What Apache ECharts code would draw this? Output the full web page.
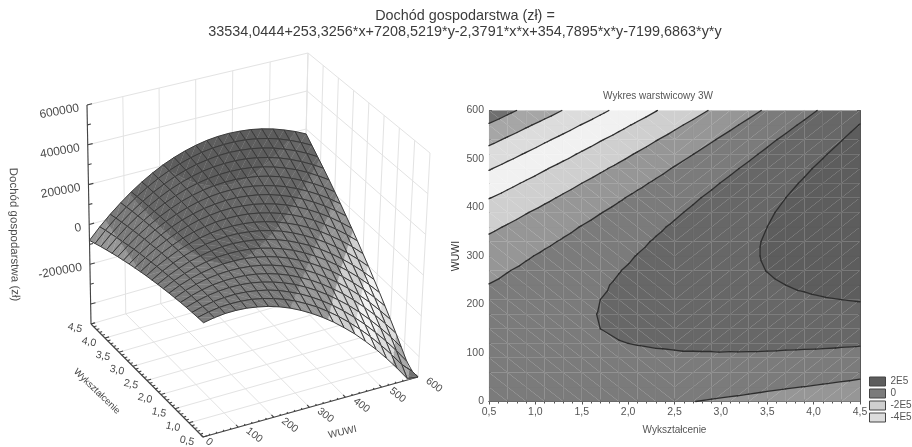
<!DOCTYPE html>
<html><head><meta charset="utf-8">
<style>html,body{margin:0;padding:0;background:#fff}#c{width:912px;height:447px;filter:blur(.55px)}</style>
<script src="https://cdn.jsdelivr.net/npm/echarts@6/dist/echarts.min.js"></script>
</head><body><div id="c"></div>
<script>
// Surface read-off: income in thousands of zł; one list per Wyksztalcenie value, columns are WUWI nodes
const wuwiNodes=[0,30,60,90,120,150,180,210,240,270,300,330,360,390,420,450,480,510,540,570,600];
const eduNodes=[0.5,0.7,0.9,1.1,1.3,1.5,1.7,1.9,2.1,2.3,2.5,2.7,2.9,3.1,3.3,3.5,3.7,3.9,4.1,4.3,4.5];
const zE05=[35,46,53,55,53,46,36,21,2,-22,-50,-82,-118,-159,-203,-253,-306,-364,-426,-492,-563];
const zE07=[35,48,57,61,61,57,48,35,18,-3,-29,-58,-93,-131,-174,-221,-272,-328,-388,-452,-520];
const zE09=[34,49,60,66,69,67,60,50,35,15,-8,-36,-68,-104,-145,-190,-239,-293,-350,-412,-479];
const zE11=[33,50,63,71,76,76,72,63,50,33,12,-14,-44,-78,-117,-159,-206,-258,-313,-373,-438];
const zE13=[31,50,65,76,82,84,82,76,65,50,31,7,-20,-52,-89,-129,-174,-224,-277,-335,-397];
const zE15=[28,50,67,80,88,92,92,88,80,67,50,28,3,-27,-62,-100,-143,-190,-241,-297,-357];
const zE17=[25,49,68,83,93,100,102,100,93,83,68,49,25,-3,-35,-71,-112,-157,-206,-260,-318];
const zE19=[21,47,68,85,98,107,111,111,107,98,85,68,47,21,-9,-43,-82,-125,-172,-223,-279];
const zE21=[17,45,68,88,102,113,120,122,119,113,102,87,68,44,17,-16,-52,-93,-138,-187,-241];
const zE23=[12,42,68,89,106,119,127,132,132,127,119,106,89,67,41,11,-23,-61,-104,-151,-203];
const zE25=[7,39,66,90,109,124,135,141,143,141,135,124,109,89,66,38,6,-31,-71,-116,-166];
const zE27=[1,35,65,90,112,129,141,150,154,154,150,141,128,111,90,64,34,-1,-39,-82,-129];
const zE29=[-6,30,62,90,113,133,148,158,165,167,164,158,147,132,113,89,61,29,-7,-48,-93];
const zE31=[-13,25,59,89,115,136,153,166,174,179,179,174,166,153,135,114,88,58,24,-15,-58];
const zE33=[-21,20,56,88,116,139,158,173,184,190,192,190,183,172,157,138,114,86,54,18,-23];
const zE35=[-29,13,52,86,116,141,163,180,192,201,205,205,200,192,179,162,140,114,84,50,11];
const zE37=[-38,6,47,83,115,143,166,186,200,211,217,219,217,211,200,185,165,142,114,81,45];
const zE39=[-48,-1,42,80,114,144,170,191,208,221,229,233,233,229,220,207,190,168,142,112,78];
const zE41=[-58,-9,36,77,113,145,172,196,215,230,240,247,249,246,240,229,214,194,171,143,110];
const zE43=[-69,-17,30,72,111,145,175,200,221,238,251,259,263,263,259,250,237,220,198,172,142];
const zE45=[-80,-26,23,67,108,144,176,204,227,246,261,272,278,280,277,271,260,245,225,202,174];
const surfaceRows=[zE05,zE07,zE09,zE11,zE13,zE15,zE17,zE19,zE21,zE23,zE25,zE27,zE29,zE31,zE33,zE35,zE37,zE39,zE41,zE43,zE45];

const contourLevels=[-500,-400,-300,-200,-100,0,100,200];
const bandNames=['-6E5','-5E5','-4E5','-3E5','-2E5','-1E5','0','1E5','2E5'];
const bandFills=['#707070','#a6a6a6','#dcdcdc','#f1f1f1','#cfcfcf','#969696','#7b7b7b','#676767','#5d5d5d'];
const legendNames=['2E5','0','-2E5','-4E5'];
const wuwiTicks=[0,100,200,300,400,500,600];
const eduTicks=[0.5,1,1.5,2,2.5,3,3.5,4,4.5];
const zTicks=[-400,-200,0,200,400,600];
const zLabels=[600,400,200,0,-200];

// Camera for the 3D box: where the eight box corners land on the page
const floorQuad=[[203,437],[418,377],[303,262],[91,324]];
const topQuad=[[204,202],[430,153],[308,53],[87,105]];
const wRange=[0,600],eRange=[0.5,4.5],zRange=[-500,600];

function homography(q){
  const [p0,p1,p2,p3]=q;
  const dx1=p1[0]-p2[0],dx2=p3[0]-p2[0],sx=p0[0]-p1[0]+p2[0]-p3[0];
  const dy1=p1[1]-p2[1],dy2=p3[1]-p2[1],sy=p0[1]-p1[1]+p2[1]-p3[1];
  const den=dx1*dy2-dx2*dy1;
  const g=(sx*dy2-dx2*sy)/den,h=(dx1*sy-sx*dy1)/den;
  const a=p1[0]-p0[0]+g*p1[0],b=p3[0]-p0[0]+h*p3[0],c=p0[0];
  const d=p1[1]-p0[1]+g*p1[1],e=p3[1]-p0[1]+h*p3[1],f=p0[1];
  return (u,v)=>{const k=g*u+h*v+1;return [(a*u+b*v+c)/k,(d*u+e*v+f)/k];};
}
const floorH=homography(floorQuad),topH=homography(topQuad);
function project(w,e,z){
  const u=(w-wRange[0])/(wRange[1]-wRange[0]),v=(e-eRange[0])/(eRange[1]-eRange[0]);
  const t=(Math.max(z,zRange[0])-zRange[0])/(zRange[1]-zRange[0]);
  const a=floorH(u,v),b=topH(u,v);
  return [a[0]+(b[0]-a[0])*t,a[1]+(b[1]-a[1])*t];
}

// Triangles of a mesh cell: [w,e,z] vertices. The split flips halfway along Wyksztalcenie
function cellTris(i,j){
  const v=(a,b)=>[wuwiNodes[a],eduNodes[b],surfaceRows[b][a]];
  const A=v(i,j),B=v(i+1,j),C=v(i+1,j+1),D=v(i,j+1);
  return j<10?[[A,B,D],[B,C,D]]:[[A,B,C],[A,C,D]];
}
function clipAt(poly,lev,keepAbove){
  const out=[];
  for(let k=0;k<poly.length;k++){
    const p=poly[k],q=poly[(k+1)%poly.length];
    const pin=keepAbove?p[2]>=lev:p[2]<=lev,qin=keepAbove?q[2]>=lev:q[2]<=lev;
    if(pin)out.push(p);
    if(pin!==qin){const t=(lev-p[2])/(q[2]-p[2]);out.push([p[0]+(q[0]-p[0])*t,p[1]+(q[1]-p[1])*t,lev]);}
  }
  return out;
}
function bandBounds(b){return [b===0?-1e9:-600+b*100,b===bandNames.length-1?1e9:-500+b*100];}
function clipBand(tri,b){
  const [lo,hi]=bandBounds(b);
  let p=clipAt(tri,lo,true);
  if(p.length>2)p=clipAt(p,hi,false);
  return p.length>2?p:null;
}
const allCells=[];
for(let j=0;j<eduNodes.length-1;j++)for(let i=0;i<wuwiNodes.length-1;i++)allCells.push([i,j]);

// Flat chart: band polygons and contour segments derived from the table
const bandPolys=bandNames.map((_,b)=>{
  const out=[];
  allCells.forEach(([i,j])=>cellTris(i,j).forEach(t=>{const p=clipBand(t,b);if(p)out.push(p);}));
  return out;
});
const contourSegs=[];
allCells.forEach(([i,j])=>cellTris(i,j).forEach(t=>{
  contourLevels.forEach(l=>{
    const pts=[];
    for(let k=0;k<3;k++){
      const p=t[k],q=t[(k+1)%3];
      if((p[2]<l)!==(q[2]<l)){const s=(l-p[2])/(q[2]-p[2]);pts.push([p[0]+(q[0]-p[0])*s,p[1]+(q[1]-p[1])*s]);}
    }
    if(pts.length===2)contourSegs.push(pts);
  });
}));

// 3D box segments
const boxLines=[];
wuwiTicks.forEach(w=>{boxLines.push([[w,4.5,zRange[0]],[w,4.5,zRange[1]]]);boxLines.push([[w,0.5,zRange[0]],[w,4.5,zRange[0]]]);});
eduTicks.forEach(e=>{boxLines.push([[600,e,zRange[0]],[600,e,zRange[1]]]);boxLines.push([[0,e,zRange[0]],[600,e,zRange[0]]]);});
zTicks.forEach(z=>{boxLines.push([[0,4.5,z],[600,4.5,z]]);boxLines.push([[600,4.5,z],[600,0.5,z]]);});
const axisLines=[
  [[0,4.5,zRange[0]],[0,4.5,zRange[1]]],
  [[0,4.5,zRange[0]],[0,0.5,zRange[0]]],
  [[0,0.5,zRange[0]],[600,0.5,zRange[0]]]
];
for(let z=-500;z<=600;z+=100)axisLines.push([[0,4.5,z],[z%200===0?14:10,4.5,z]]);
for(let w=0;w<=600;w+=20)axisLines.push([[w,0.5,zRange[0]],[w,w%100===0?0.58:0.54,zRange[0]]]);
for(let k=0;k<=40;k++){const e=0.5+k*0.1;axisLines.push([[0,e,zRange[0]],[k%5===0?12:8,e,zRange[0]]]);}

const axisFont='"Liberation Sans",Arial,sans-serif';
const comma=v=>v.toFixed(1).replace('.',',');
const boxTexts=[];
zLabels.forEach(z=>boxTexts.push({at:[0,4.5,z],dx:-8,dy:3,rot:10,align:'right',text:String(z*1000),size:12}));
eduTicks.forEach(e=>boxTexts.push({at:[0,e,zRange[0]],dx:-16,dy:4,rot:-12,align:'center',text:comma(e),size:10.5}));
wuwiTicks.forEach(w=>boxTexts.push({at:[w,0.5,zRange[0]],dx:w===0?6:16,dy:w===0?5:8,rot:-38,align:'center',text:String(w),size:10.5}));
boxTexts.push({at:[0,2.5,zRange[0]],dx:-50,dy:11,rot:-44,align:'center',text:'Wykształcenie',size:9.5});
boxTexts.push({at:[300,0.5,zRange[0]],dx:33,dy:25,rot:13,align:'center',text:'WUWI',size:10});
boxTexts.push({at:[0,4.5,50],dx:-75,dy:20,rot:-89,align:'center',text:'Dochód gospodarstwa (zł)',size:11.5});

const idx=a=>a.map((_,i)=>[i,0]);
const chart=echarts.init(document.getElementById('c'),null,{renderer:'canvas',width:912,height:447});
const flat=(name,color,extra)=>Object.assign({type:'custom',name,xAxisIndex:1,yAxisIndex:1,silent:true,animation:false,itemStyle:{color},clip:false},extra);
const series=[];
series.push({type:'custom',silent:true,animation:false,xAxisIndex:0,yAxisIndex:0,z:1,data:idx(boxLines),
  renderItem(p,api){const s=boxLines[p.dataIndex],a=api.coord(project(...s[0])),b=api.coord(project(...s[1]));
    return {type:'line',shape:{x1:a[0],y1:a[1],x2:b[0],y2:b[1]},style:{stroke:'#e3e3e3',lineWidth:1}};}});
series.push({type:'custom',silent:true,animation:false,xAxisIndex:0,yAxisIndex:0,z:2,data:idx(axisLines),
  renderItem(p,api){const s=axisLines[p.dataIndex],a=api.coord(project(...s[0])),b=api.coord(project(...s[1]));
    return {type:'line',shape:{x1:a[0],y1:a[1],x2:b[0],y2:b[1]},style:{stroke:'#444',lineWidth:1.1}};}});
// far cells first so nearer ones overdraw them
const paintOrder=allCells.slice().sort((a,b)=>(b[1]-a[1])||(b[0]-a[0]));
series.push({type:'custom',silent:true,animation:false,xAxisIndex:0,yAxisIndex:0,z:3,data:paintOrder,
  renderItem(p,api){
    const [i,j]=paintOrder[p.dataIndex],children=[];
    cellTris(i,j).forEach(t=>bandNames.forEach((_,b)=>{
      const poly=clipBand(t,b);
      if(poly)children.push({type:'polygon',shape:{points:poly.map(v=>api.coord(project(...v)))},style:{fill:bandFills[b],stroke:bandFills[b],lineWidth:.3}});
    }));
    const n=(a,b)=>api.coord(project(wuwiNodes[a],eduNodes[b],surfaceRows[b][a]));
    children.push({type:'polygon',shape:{points:[n(i,j),n(i+1,j),n(i+1,j+1),n(i,j+1)]},style:{fill:'none',stroke:'#3a3a3a',lineWidth:1}});
    return {type:'group',children};
  }});
series.push({type:'custom',silent:true,animation:false,xAxisIndex:0,yAxisIndex:0,z:4,data:idx(boxTexts),
  renderItem(p,api){const t=boxTexts[p.dataIndex],c=api.coord(project(...t.at));
    return {type:'text',x:c[0]+t.dx,y:c[1]+t.dy,rotation:t.rot*Math.PI/180,
      style:{text:t.text,fill:'#4a4a4a',font:t.size+'px '+axisFont,align:t.align,verticalAlign:'middle'}};}});
bandNames.forEach((name,b)=>{
  const polys=bandPolys[b];
  series.push(flat(name,bandFills[b],{z:1,data:idx(polys),renderItem(p,api){
    return {type:'polygon',shape:{points:polys[p.dataIndex].map(v=>api.coord([v[1],v[0]]))},style:{fill:bandFills[b],stroke:bandFills[b],lineWidth:.15}};
  }}));
});
series.push(flat('contours','#333',{z:2,data:idx(contourSegs),renderItem(p,api){
  const s=contourSegs[p.dataIndex],a=api.coord([s[0][1],s[0][0]]),b=api.coord([s[1][1],s[1][0]]);
  return {type:'line',shape:{x1:a[0],y1:a[1],x2:b[0],y2:b[1]},style:{stroke:'#2e2e2e',lineWidth:1.3,lineCap:'round'}};
}}));

const tickStyle={show:true,inside:true,length:3,lineStyle:{color:'#555'}};
const minorStyle={show:true,splitNumber:5,length:2,lineStyle:{color:'#555'}};
const lineStyle={show:true,lineStyle:{color:'#555',width:1}};
const labelStyle={color:'#555',fontSize:10.5,fontFamily:axisFont,margin:5};
const g1={left:489,top:110.5,width:371,height:291};
chart.setOption({
  animation:false,backgroundColor:'#fff',
  title:[
    {text:'Dochód gospodarstwa (zł) =\n33534,0444+253,3256*x+7208,5219*y-2,3791*x*x+354,7895*x*y-7199,6863*y*y',left:460,top:3,textAlign:'center',
     textStyle:{fontSize:14.4,fontWeight:'normal',color:'#3c3c3c',fontFamily:axisFont,lineHeight:16}},
    {text:'Wykres warstwicowy 3W',left:653,top:86,textAlign:'center',textStyle:{fontSize:10,fontWeight:'normal',color:'#555',fontFamily:axisFont}}
  ],
  legend:{data:legendNames.map(n=>({name:n,icon:'rect',itemStyle:{color:bandFills[bandNames.indexOf(n)],borderColor:'#444',borderWidth:1}})),
    orient:'vertical',left:864,top:371,itemWidth:16,itemHeight:9,itemGap:1,selectedMode:false,
    textStyle:{color:'#555',fontSize:10,lineHeight:11,fontFamily:axisFont}},
  grid:[{left:0,top:0,width:912,height:447,show:false},g1],
  xAxis:[
    {type:'value',gridIndex:0,min:0,max:912,show:false},
    {type:'value',gridIndex:1,min:0.5,max:4.5,interval:0.5,position:'bottom',axisLine:lineStyle,axisTick:tickStyle,minorTick:minorStyle,splitLine:{show:false},
     axisLabel:Object.assign({},labelStyle,{formatter:comma}),name:'Wykształcenie',nameLocation:'middle',nameGap:24,nameTextStyle:{color:'#555',fontSize:10,fontFamily:axisFont}},
    {type:'value',gridIndex:1,min:0.5,max:4.5,interval:0.5,position:'top',axisLine:lineStyle,axisTick:tickStyle,minorTick:minorStyle,splitLine:{show:false},axisLabel:{show:false}}
  ],
  yAxis:[
    {type:'value',gridIndex:0,min:0,max:447,inverse:true,show:false},
    {type:'value',gridIndex:1,min:0,max:600,interval:100,position:'left',axisLine:lineStyle,axisTick:tickStyle,minorTick:minorStyle,splitLine:{show:false},
     axisLabel:labelStyle,name:'WUWI',nameLocation:'middle',nameGap:27,nameRotate:90,nameTextStyle:{color:'#333',fontSize:10.5,fontFamily:axisFont}},
    {type:'value',gridIndex:1,min:0,max:600,interval:100,position:'right',axisLine:lineStyle,axisTick:tickStyle,minorTick:minorStyle,splitLine:{show:false},axisLabel:{show:false}}
  ],
  series
});
</script></body></html>
